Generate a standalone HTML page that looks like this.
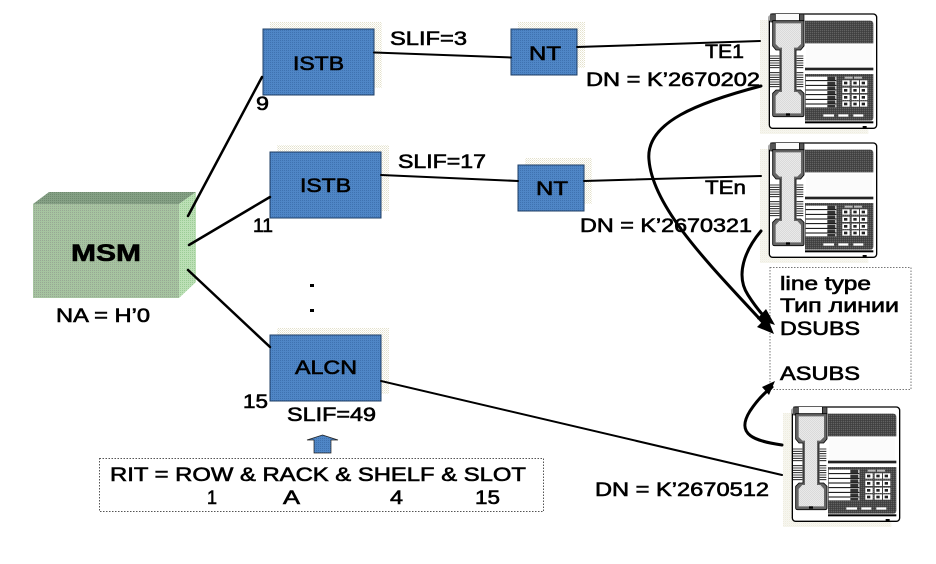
<!DOCTYPE html>
<html><head><meta charset="utf-8"><style>
html,body{margin:0;padding:0;background:#fff;width:936px;height:564px;overflow:hidden}
svg{display:block}
text{font-family:"Liberation Sans",sans-serif;font-size:19px;fill:#000;stroke:#000;stroke-width:.6}
</style></head><body>
<svg width="936" height="564" viewBox="0 0 936 564" xmlns="http://www.w3.org/2000/svg">
<defs>
<pattern id="blue" width="2" height="2" patternUnits="userSpaceOnUse"><rect width="2" height="2" fill="#4f86c6"/><rect width="1" height="1" fill="#3f72b0"/></pattern>
<pattern id="shadow" width="2" height="2" patternUnits="userSpaceOnUse"><rect width="2" height="2" fill="#fff"/><rect width="1" height="1" fill="#e4e1cc"/><rect x="1" y="1" width="1" height="1" fill="#efeee0"/></pattern>
<pattern id="front" width="2" height="2" patternUnits="userSpaceOnUse"><rect width="2" height="2" fill="#a6c4a0"/><rect width="1" height="1" fill="#98a894"/></pattern>
<pattern id="top" width="2" height="2" patternUnits="userSpaceOnUse"><rect width="2" height="2" fill="#85a085"/><rect width="1" height="1" fill="#6f8a6f"/></pattern>
<pattern id="side" width="2" height="2" patternUnits="userSpaceOnUse"><rect width="2" height="2" fill="#bce0b6"/><rect width="1" height="1" fill="#9ccc96"/></pattern>
<pattern id="dark" width="2" height="2" patternUnits="userSpaceOnUse"><rect width="2" height="2" fill="#3a3a3a"/><rect width="1" height="1" fill="#808080"/></pattern>
<pattern id="light" width="2" height="2" patternUnits="userSpaceOnUse"><rect width="2" height="2" fill="#fff"/><rect width="1" height="1" fill="#c4c4c4"/><rect x="1" y="1" width="1" height="1" fill="#c4c4c4"/></pattern>
<pattern id="pale" width="3" height="3" patternUnits="userSpaceOnUse"><rect width="3" height="3" fill="#fff"/><rect width="1" height="1" fill="#ddd"/></pattern>
<g id="phone">
<g transform="translate(760,0) scale(.33333)">
<path d="M0 60H28V378H325V402H0Z" fill="url(#shadow)"/>
<rect x="28" y="42" width="322" height="343" rx="10" fill="#fff" stroke="#000" stroke-width="4"/>
<rect x="28" y="42" width="105" height="20" fill="url(#pale)"/>
<rect x="32" y="42" width="14" height="24" fill="#555" stroke="#000" stroke-width="2"/>
<rect x="118" y="42" width="14" height="24" fill="#555" stroke="#000" stroke-width="2"/>
<path d="M135 62H330Q340 62 340 72V130H135Z" fill="url(#dark)"/>
<rect x="137" y="134" width="198" height="66" fill="url(#pale)"/>
<rect x="135" y="203" width="205" height="8" fill="#222"/>
<path d="M135 222H340V352Q340 362 330 362H135Z" fill="url(#dark)"/>
<rect x="137" y="230" width="92" height="92" fill="#fff"/>
<g stroke="#000" stroke-width="3"><path d="M137 242H229M137 256H229M137 270H229M137 284H229M137 298H229M137 312H229"/></g>
<g fill="#333"><rect x="202" y="230" width="24" height="10"/><rect x="202" y="245" width="24" height="10"/><rect x="202" y="259" width="24" height="10"/><rect x="202" y="273" width="24" height="10"/><rect x="202" y="287" width="24" height="10"/><rect x="202" y="301" width="24" height="10"/><rect x="202" y="315" width="24" height="7"/></g>
<g fill="#fff"><rect x="254" y="230" width="24" height="6" fill="#bbb"/><rect x="282" y="230" width="24" height="6" fill="#bbb"/>
<rect x="247" y="241" width="22" height="16"/><rect x="275" y="241" width="22" height="16"/><rect x="300" y="241" width="22" height="16"/>
<rect x="247" y="263" width="22" height="16"/><rect x="275" y="263" width="22" height="16"/><rect x="300" y="263" width="22" height="16"/>
<rect x="247" y="284" width="22" height="16"/><rect x="275" y="284" width="22" height="16"/><rect x="300" y="284" width="22" height="16"/>
<rect x="247" y="304" width="22" height="16"/><rect x="275" y="304" width="22" height="16"/><rect x="300" y="304" width="22" height="16"/>
<rect x="190" y="343" width="32" height="7"/><rect x="235" y="343" width="30" height="7"/><rect x="280" y="343" width="30" height="7"/></g>
<g fill="#222"><rect x="252" y="245" width="10" height="8"/><rect x="280" y="245" width="10" height="8"/><rect x="305" y="245" width="10" height="8"/><rect x="252" y="267" width="10" height="8"/><rect x="280" y="267" width="10" height="8"/><rect x="305" y="267" width="10" height="8"/><rect x="252" y="288" width="10" height="8"/><rect x="280" y="288" width="10" height="8"/><rect x="305" y="288" width="10" height="8"/><rect x="252" y="308" width="10" height="8"/><rect x="280" y="308" width="10" height="8"/><rect x="305" y="308" width="10" height="8"/></g>
<rect x="135" y="364" width="205" height="6" fill="#000"/>
<rect x="308" y="378" width="12" height="8" fill="#000"/>
<g stroke="#000" stroke-width="2.500"><path d="M30 168H58M30 175H58M30 182H58M30 189H58M30 196H58M30 203H58M30 218H58M30 225H58M30 232H58M30 239H58M30 246H58M30 253H58M30 260H58"/><path d="M110 168H130M110 175H130M110 182H130M110 189H130M110 196H130M110 203H130M110 218H130M110 225H130M110 232H130M110 239H130M110 246H130M110 253H130M110 260H130"/></g>
<path d="M38 62H132V138L122 150H108V270H122L132 280V345Q132 350 126 350H44Q38 350 38 345V280L48 270H60V150H48L38 138Z" fill="#666" stroke="#000" stroke-width="2.500"/>
<path d="M47 70H123V132L112 143H102V276H112L123 288V340H47V288L58 276H66V143H58L47 132Z" fill="url(#light)"/>
<rect x="78" y="340" width="12" height="7" fill="#000"/>
</g>
</g>
</defs>

<!-- phones -->
<use href="#phone"/>
<use href="#phone" transform="translate(0,129)"/>
<use href="#phone" transform="translate(23,393)"/>

<!-- line type box -->
<rect x="770" y="267.500" width="141" height="122" fill="#fff" stroke="#777" stroke-width="1" stroke-dasharray="1.500 1.500"/>

<!-- MSM -->
<polygon points="33,204 49,192 196,192 179,204" fill="url(#top)"/>
<polygon points="179,204 196,192 196,282 179,298" fill="url(#side)"/>
<rect x="33" y="204" width="146" height="94" fill="url(#front)"/>

<!-- block shadows -->
<rect x="270" y="22" width="111" height="10" fill="url(#shadow)"/>
<rect x="374" y="22" width="8" height="66" fill="url(#shadow)"/>
<rect x="518" y="22" width="66" height="10" fill="url(#shadow)"/>
<rect x="577" y="22" width="8" height="46" fill="url(#shadow)"/>
<rect x="277" y="145" width="111" height="10" fill="url(#shadow)"/>
<rect x="381" y="145" width="8" height="66" fill="url(#shadow)"/>
<rect x="525" y="158" width="66" height="10" fill="url(#shadow)"/>
<rect x="584" y="158" width="8" height="46" fill="url(#shadow)"/>
<rect x="277" y="328" width="111" height="10" fill="url(#shadow)"/>
<rect x="381" y="328" width="8" height="66" fill="url(#shadow)"/>

<!-- blocks -->
<g fill="url(#blue)" stroke="#1f3f66" stroke-width="1">
<rect x="263" y="29" width="111" height="66"/>
<rect x="511" y="29" width="66" height="46"/>
<rect x="270" y="152" width="111" height="66"/>
<rect x="518" y="165" width="66" height="46"/>
<rect x="270" y="335" width="111" height="66"/>
</g>

<!-- connectors -->
<g stroke="#000" stroke-width="2.500" fill="none" stroke-linecap="round">
<path d="M188 216L262 77"/>
<path d="M189 245L270 197"/>
<path d="M188 270L270 347"/>
<path d="M374 52.500L511 57.500" stroke-width="2"/>
<path d="M577 47L760 41" stroke-width="2"/>
<path d="M381 175L518 181" stroke-width="2"/>
<path d="M584 181L761 176" stroke-width="2"/>
<path d="M381 381L782 475" stroke-width="2"/>
<path d="M761 86C700 102 645 122 649 160C653 210 715 270 768 328" stroke-width="3"/>
<path d="M761 231C745 250 735 275 748 295C755 306 762 315 770 322" stroke-width="3"/>
<path d="M782 445C755 441 735 435 750 411C756 402 764 393 772 387" stroke-width="3"/>
</g>
<polygon points="774,334 757,327 767,317" fill="#000"/>
<polygon points="775,325 757,319 766,309" fill="#000"/>
<polygon points="775,381 769,395 762,387" fill="#000"/>

<!-- dots -->
<rect x="310" y="284" width="4" height="3" fill="#000"/>
<rect x="310" y="309" width="4" height="3" fill="#000"/>

<!-- up arrow -->
<polygon points="322.500,435 338,440 331,440 331,453 314,453 314,440 307,440" fill="url(#blue)" stroke="#222" stroke-width=".7"/>

<!-- RIT box -->
<rect x="99.500" y="458.500" width="444" height="53" fill="#fff" stroke="#555" stroke-width="1" stroke-dasharray="1.500 1.500"/>

<!-- labels -->
<text x="71" y="261" textLength="70" lengthAdjust="spacingAndGlyphs" style="font-size:24px;font-weight:bold">MSM</text>
<text x="56" y="322" textLength="94" lengthAdjust="spacingAndGlyphs">NA = H’0</text>
<text x="293" y="70" textLength="51" lengthAdjust="spacingAndGlyphs">ISTB</text>
<text x="529" y="60" textLength="32" lengthAdjust="spacingAndGlyphs">NT</text>
<text x="390" y="45" textLength="77" lengthAdjust="spacingAndGlyphs">SLIF=3</text>
<text x="705" y="58" textLength="39" lengthAdjust="spacingAndGlyphs">TE1</text>
<text x="586" y="86" textLength="174" lengthAdjust="spacingAndGlyphs">DN = K’2670202</text>
<text x="256" y="110" textLength="13" lengthAdjust="spacingAndGlyphs">9</text>
<text x="300" y="192" textLength="51" lengthAdjust="spacingAndGlyphs">ISTB</text>
<text x="536" y="195" textLength="32" lengthAdjust="spacingAndGlyphs">NT</text>
<text x="398" y="168" textLength="88" lengthAdjust="spacingAndGlyphs">SLIF=17</text>
<text x="705" y="194" textLength="41" lengthAdjust="spacingAndGlyphs">TEn</text>
<text x="580" y="232" textLength="172" lengthAdjust="spacingAndGlyphs">DN = K’2670321</text>
<text x="253" y="232" textLength="20" lengthAdjust="spacingAndGlyphs">11</text>
<text x="295" y="374" textLength="62" lengthAdjust="spacingAndGlyphs">ALCN</text>
<text x="243" y="408" textLength="25" lengthAdjust="spacingAndGlyphs">15</text>
<text x="287" y="421" textLength="89" lengthAdjust="spacingAndGlyphs">SLIF=49</text>
<text x="110" y="481" textLength="416" lengthAdjust="spacingAndGlyphs">RIT = ROW &amp; RACK &amp; SHELF &amp; SLOT</text>
<text x="207" y="504" textLength="10" lengthAdjust="spacingAndGlyphs">1</text>
<text x="283" y="504" textLength="17" lengthAdjust="spacingAndGlyphs">A</text>
<text x="390" y="504" textLength="13" lengthAdjust="spacingAndGlyphs">4</text>
<text x="475" y="504" textLength="25" lengthAdjust="spacingAndGlyphs">15</text>
<text x="780" y="290" textLength="91" lengthAdjust="spacingAndGlyphs">line type</text>
<text x="780" y="312" textLength="119" lengthAdjust="spacingAndGlyphs">Тип линии</text>
<text x="780" y="335" textLength="80" lengthAdjust="spacingAndGlyphs">DSUBS</text>
<text x="780" y="380" textLength="80" lengthAdjust="spacingAndGlyphs">ASUBS</text>
<text x="595" y="496" textLength="174" lengthAdjust="spacingAndGlyphs">DN = K’2670512</text>
</svg>
</body></html>
